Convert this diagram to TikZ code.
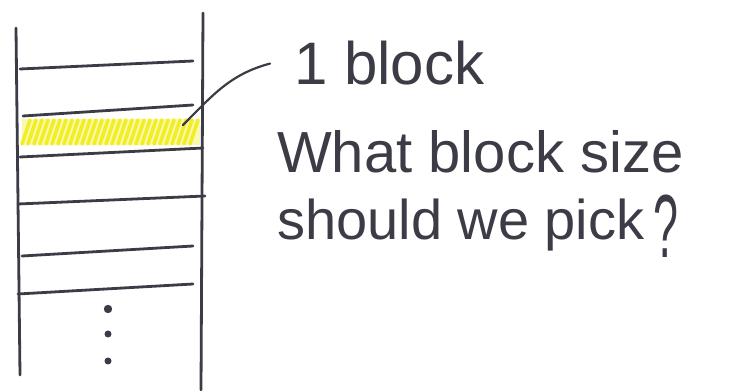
\documentclass[tikz,border=0pt]{standalone}
\usepackage{fontspec}
\setmainfont{Liberation Sans}

\definecolor{inkt}{HTML}{3C3C47}
\definecolor{markeer}{HTML}{F2EE24}

\tikzset{
  pen/.style={inkt,line width=2.8pt,line cap=round},
  streep/.style={markeer,line width=3.6pt,line cap=round},
  hand/.style={inkt,inner sep=0pt,anchor=base west}
}

\begin{document}
\begin{tikzpicture}[x=1pt,y=1pt]

  \useasboundingbox (0,0) rectangle (750,391);

  % gemarkeerd blok
  \fill[markeer!35] (22,246) rectangle (200,272);
  \foreach \x in {22,28,...,190}
    \draw[streep] (\x,247) -- ++(8,24);
  \coordinate (blok) at (183,266);

  % kolom
  \draw[pen] (16,363) -- (20,16);
  \draw[pen] (203,378) -- (201,1);

  % scheidingslijnen
  \draw[pen] (20,322) -- (193,330);
  \draw[pen] (23,275) -- (193,286);
  \draw[pen] (20,234) -- (203,243);
  \draw[pen] (18,187) -- (205,195);
  \draw[pen] (22,135) -- (193,145);
  \draw[pen] (18,97) -- (193,107);

  % puntjes
  \fill[inkt] (108,82) circle (4.2pt);
  \fill[inkt] (108,57) circle (3.5pt);
  \fill[inkt] (108,30) circle (3.5pt);

  % tekst
  \node[hand,inner xsep=24pt,font=\fontsize{60}{60}\selectfont]
    (eenblok) at (270,306) {1 block};
  \node[hand,font=\fontsize{58}{58}\selectfont]
    (vraag1) at (277,218) {What block size};
  \node[hand,font=\fontsize{56}{56}\selectfont]
    (vraag2) at (277,151)
    {should we pick\,\raisebox{-18pt}{\scalebox{0.8}[1.6]{?}}};

  % verwijzing
  \draw[pen,line width=2.2pt] (eenblok.west) to[out=195,in=45] (blok);

\end{tikzpicture}
\end{document}
